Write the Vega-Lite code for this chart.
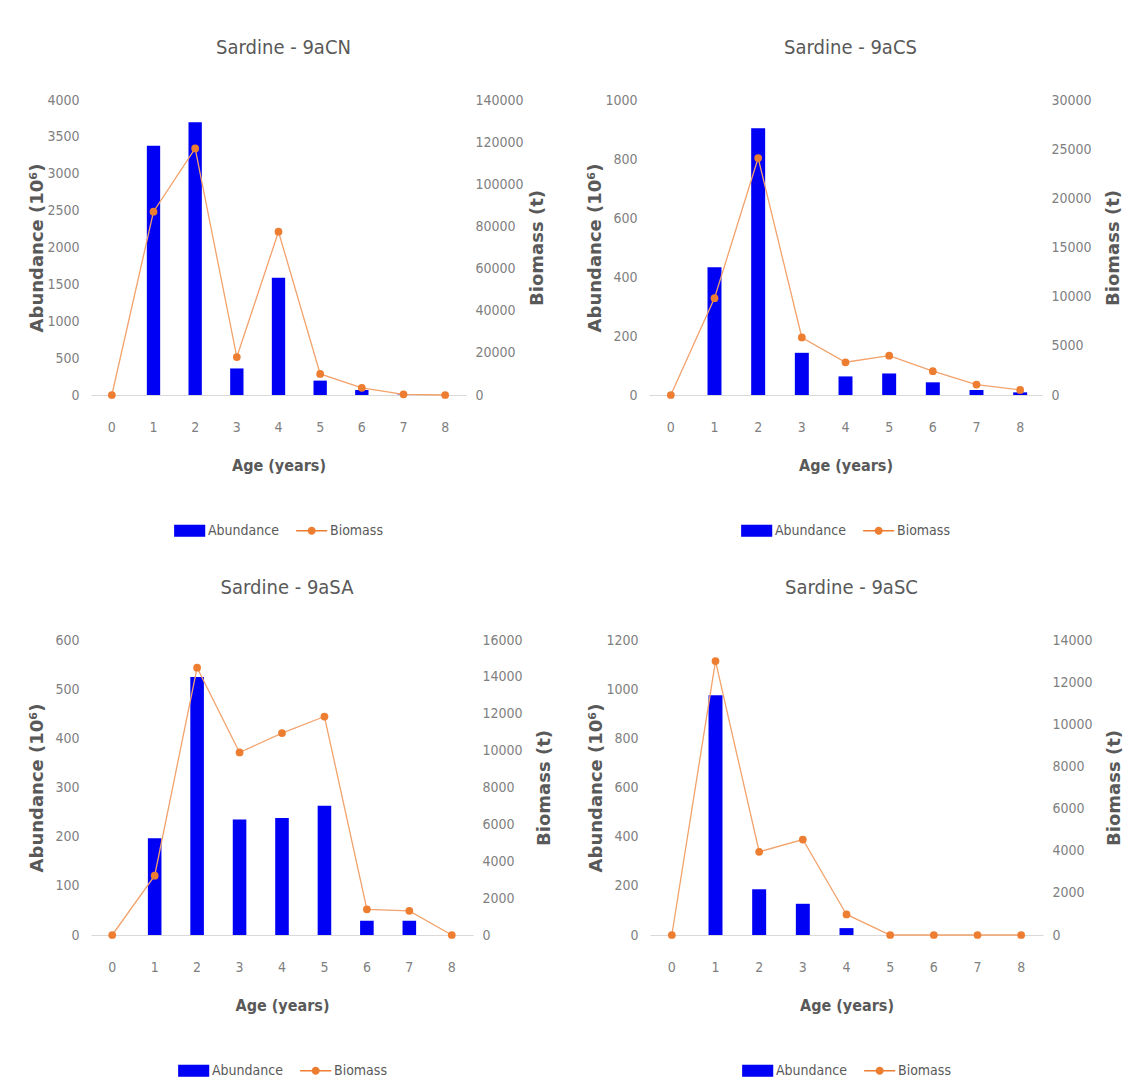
{
  "$schema": "https://vega.github.io/schema/vega-lite/v6.json",
  "background": "white",
  "padding": {"left": 27, "top": 38, "right": 5, "bottom": 0},
  "datasets": {
    "cn": [
      {"age": 0, "Abundance": 0, "Biomass": 0},
      {"age": 1, "Abundance": 3380, "Biomass": 87000},
      {"age": 2, "Abundance": 3700, "Biomass": 117000},
      {"age": 3, "Abundance": 360, "Biomass": 18000},
      {"age": 4, "Abundance": 1590, "Biomass": 77500},
      {"age": 5, "Abundance": 195, "Biomass": 10000},
      {"age": 6, "Abundance": 68, "Biomass": 3400},
      {"age": 7, "Abundance": 5, "Biomass": 300},
      {"age": 8, "Abundance": 0, "Biomass": 0}
    ],
    "cs": [
      {"age": 0, "Abundance": 0, "Biomass": 0},
      {"age": 1, "Abundance": 433, "Biomass": 9850},
      {"age": 2, "Abundance": 904, "Biomass": 24100},
      {"age": 3, "Abundance": 143, "Biomass": 5850},
      {"age": 4, "Abundance": 63, "Biomass": 3330},
      {"age": 5, "Abundance": 73, "Biomass": 4000},
      {"age": 6, "Abundance": 43, "Biomass": 2420},
      {"age": 7, "Abundance": 17, "Biomass": 1060},
      {"age": 8, "Abundance": 9, "Biomass": 510}
    ],
    "sa": [
      {"age": 0, "Abundance": 0, "Biomass": 0},
      {"age": 1, "Abundance": 197, "Biomass": 3220},
      {"age": 2, "Abundance": 525, "Biomass": 14500},
      {"age": 3, "Abundance": 235, "Biomass": 9900},
      {"age": 4, "Abundance": 238, "Biomass": 10950},
      {"age": 5, "Abundance": 263, "Biomass": 11850},
      {"age": 6, "Abundance": 29, "Biomass": 1390},
      {"age": 7, "Abundance": 29, "Biomass": 1310},
      {"age": 8, "Abundance": 0, "Biomass": 0}
    ],
    "sc": [
      {"age": 0, "Abundance": 0, "Biomass": 0},
      {"age": 1, "Abundance": 975, "Biomass": 13000},
      {"age": 2, "Abundance": 186, "Biomass": 3950},
      {"age": 3, "Abundance": 127, "Biomass": 4530},
      {"age": 4, "Abundance": 28, "Biomass": 975},
      {"age": 5, "Abundance": 0, "Biomass": 0},
      {"age": 6, "Abundance": 0, "Biomass": 0},
      {"age": 7, "Abundance": 0, "Biomass": 0},
      {"age": 8, "Abundance": 0, "Biomass": 0}
    ]
  },
  "resolve": {"scale": {"color": "independent", "shape": "independent"}, "legend": {"color": "independent", "shape": "independent"}},
  "spacing": 40,
  "vconcat": [
    {
      "hconcat": [
        {
          "title": {"text": "Sardine - 9aCN"},
          "width": 375, "height": 295,
          "data": {"name": "cn"},
          "encoding": {"x": {"field": "age", "type": "ordinal", "title": "Age (years)", "scale": {"paddingInner": 0.68, "paddingOuter": 0.34}}},
          "layer": [
            {"mark": {"type": "bar", "color": "#0000f5"},
             "encoding": {"y": {"field": "Abundance", "type": "quantitative", "scale": {"domain": [0, 4000]}, "axis": {"orient": "left", "title": "Abundance (10⁶)", "values": [0, 500, 1000, 1500, 2000, 2500, 3000, 3500, 4000], "format": "d"}}}},
            {"mark": {"type": "line", "color": "#f2a26b", "strokeWidth": 1.3, "point": {"filled": true, "size": 60, "color": "#ed7d31", "opacity": 1}},
             "encoding": {"y": {"field": "Biomass", "type": "quantitative", "scale": {"domain": [0, 140000]}, "axis": {"orient": "right", "title": "Biomass (t)", "values": [0, 20000, 40000, 60000, 80000, 100000, 120000, 140000], "format": "d"}}}},
            {"transform": [{"fold": ["Abundance", "Biomass"], "as": ["series", "value"]}],
             "mark": {"type": "point", "filled": true, "opacity": 0},
             "encoding": {
               "color": {"field": "series", "type": "nominal", "scale": {"domain": ["Abundance", "Biomass"], "range": ["#0000f5", "#ed7d31"]}, "legend": {"title": null}},
               "shape": {"field": "series", "type": "nominal", "scale": {"domain": ["Abundance", "Biomass"], "range": ["M-1,-0.58H2V0.58H-1Z", "M-1,-0.07H2V0.07H-1Z M0.89,0A0.39,0.39 0 1,1 0.11,0A0.39,0.39 0 1,1 0.89,0Z"]}, "legend": {"title": null}}
             }}
          ],
          "resolve": {"scale": {"y": "independent"}}
        },
        {
          "title": {"text": "Sardine - 9aCS"},
          "width": 393, "height": 295,
          "data": {"name": "cs"},
          "encoding": {"x": {"field": "age", "type": "ordinal", "title": "Age (years)", "scale": {"paddingInner": 0.68, "paddingOuter": 0.34}}},
          "layer": [
            {"mark": {"type": "bar", "color": "#0000f5"},
             "encoding": {"y": {"field": "Abundance", "type": "quantitative", "scale": {"domain": [0, 1000]}, "axis": {"orient": "left", "title": "Abundance (10⁶)", "values": [0, 200, 400, 600, 800, 1000], "format": "d"}}}},
            {"mark": {"type": "line", "color": "#f2a26b", "strokeWidth": 1.3, "point": {"filled": true, "size": 60, "color": "#ed7d31", "opacity": 1}},
             "encoding": {"y": {"field": "Biomass", "type": "quantitative", "scale": {"domain": [0, 30000]}, "axis": {"orient": "right", "title": "Biomass (t)", "values": [0, 5000, 10000, 15000, 20000, 25000, 30000], "format": "d"}}}},
            {"transform": [{"fold": ["Abundance", "Biomass"], "as": ["series", "value"]}],
             "mark": {"type": "point", "filled": true, "opacity": 0},
             "encoding": {
               "color": {"field": "series", "type": "nominal", "scale": {"domain": ["Abundance", "Biomass"], "range": ["#0000f5", "#ed7d31"]}, "legend": {"title": null}},
               "shape": {"field": "series", "type": "nominal", "scale": {"domain": ["Abundance", "Biomass"], "range": ["M-1,-0.58H2V0.58H-1Z", "M-1,-0.07H2V0.07H-1Z M0.89,0A0.39,0.39 0 1,1 0.11,0A0.39,0.39 0 1,1 0.89,0Z"]}, "legend": {"title": null}}
             }}
          ],
          "resolve": {"scale": {"y": "independent"}}
        }
      ],
      "bounds": "flush",
      "spacing": 183,
      "resolve": {"scale": {"color": "independent", "shape": "independent"}, "legend": {"color": "independent", "shape": "independent"}}
    },
    {
      "hconcat": [
        {
          "title": {"text": "Sardine - 9aSA"},
          "width": 382, "height": 295,
          "data": {"name": "sa"},
          "encoding": {"x": {"field": "age", "type": "ordinal", "title": "Age (years)", "scale": {"paddingInner": 0.68, "paddingOuter": 0.34}}},
          "layer": [
            {"mark": {"type": "bar", "color": "#0000f5"},
             "encoding": {"y": {"field": "Abundance", "type": "quantitative", "scale": {"domain": [0, 600]}, "axis": {"orient": "left", "title": "Abundance (10⁶)", "values": [0, 100, 200, 300, 400, 500, 600], "format": "d"}}}},
            {"mark": {"type": "line", "color": "#f2a26b", "strokeWidth": 1.3, "point": {"filled": true, "size": 60, "color": "#ed7d31", "opacity": 1}},
             "encoding": {"y": {"field": "Biomass", "type": "quantitative", "scale": {"domain": [0, 16000]}, "axis": {"orient": "right", "title": "Biomass (t)", "values": [0, 2000, 4000, 6000, 8000, 10000, 12000, 14000, 16000], "format": "d"}}}},
            {"transform": [{"fold": ["Abundance", "Biomass"], "as": ["series", "value"]}],
             "mark": {"type": "point", "filled": true, "opacity": 0},
             "encoding": {
               "color": {"field": "series", "type": "nominal", "scale": {"domain": ["Abundance", "Biomass"], "range": ["#0000f5", "#ed7d31"]}, "legend": {"title": null}},
               "shape": {"field": "series", "type": "nominal", "scale": {"domain": ["Abundance", "Biomass"], "range": ["M-1,-0.58H2V0.58H-1Z", "M-1,-0.07H2V0.07H-1Z M0.89,0A0.39,0.39 0 1,1 0.11,0A0.39,0.39 0 1,1 0.89,0Z"]}, "legend": {"title": null}}
             }}
          ],
          "resolve": {"scale": {"y": "independent"}}
        },
        {
          "title": {"text": "Sardine - 9aSC"},
          "width": 393, "height": 295,
          "data": {"name": "sc"},
          "encoding": {"x": {"field": "age", "type": "ordinal", "title": "Age (years)", "scale": {"paddingInner": 0.68, "paddingOuter": 0.34}}},
          "layer": [
            {"mark": {"type": "bar", "color": "#0000f5"},
             "encoding": {"y": {"field": "Abundance", "type": "quantitative", "scale": {"domain": [0, 1200]}, "axis": {"orient": "left", "title": "Abundance (10⁶)", "values": [0, 200, 400, 600, 800, 1000, 1200], "format": "d"}}}},
            {"mark": {"type": "line", "color": "#f2a26b", "strokeWidth": 1.3, "point": {"filled": true, "size": 60, "color": "#ed7d31", "opacity": 1}},
             "encoding": {"y": {"field": "Biomass", "type": "quantitative", "scale": {"domain": [0, 14000]}, "axis": {"orient": "right", "title": "Biomass (t)", "values": [0, 2000, 4000, 6000, 8000, 10000, 12000, 14000], "format": "d"}}}},
            {"transform": [{"fold": ["Abundance", "Biomass"], "as": ["series", "value"]}],
             "mark": {"type": "point", "filled": true, "opacity": 0},
             "encoding": {
               "color": {"field": "series", "type": "nominal", "scale": {"domain": ["Abundance", "Biomass"], "range": ["#0000f5", "#ed7d31"]}, "legend": {"title": null}},
               "shape": {"field": "series", "type": "nominal", "scale": {"domain": ["Abundance", "Biomass"], "range": ["M-1,-0.58H2V0.58H-1Z", "M-1,-0.07H2V0.07H-1Z M0.89,0A0.39,0.39 0 1,1 0.11,0A0.39,0.39 0 1,1 0.89,0Z"]}, "legend": {"title": null}}
             }}
          ],
          "resolve": {"scale": {"y": "independent"}}
        }
      ],
      "bounds": "flush",
      "spacing": 177,
      "resolve": {"scale": {"color": "independent", "shape": "independent"}, "legend": {"color": "independent", "shape": "independent"}}
    }
  ],
  "config": {
    "view": {"stroke": null},
    "font": "Liberation Sans Narrow, DejaVu Sans Condensed, Liberation Sans, sans-serif",
    "axis": {"grid": false, "ticks": false, "domain": false, "labelFont": "Liberation Sans Narrow, DejaVu Sans Condensed, Liberation Sans, sans-serif", "labelFontSize": 14, "labelColor": "#7f7f7f", "titleColor": "#595959"},
    "axisX": {"domain": true, "domainColor": "#d9d9d9", "domainWidth": 1, "labelPadding": 25, "labelAngle": 0, "titleFont": "Liberation Sans Narrow, DejaVu Sans Condensed, Liberation Sans, sans-serif", "titleFontSize": 16, "titleFontWeight": "bold", "titlePadding": 23},
    "axisLeft": {"minExtent": 41, "maxExtent": 41, "labelPadding": 12, "titleFont": "DejaVu Sans", "titleFontSize": 18, "titleFontWeight": "bold", "titlePadding": 4, "titleAngle": 270, "titleBaseline": "bottom"},
    "axisRight": {"minExtent": 52, "maxExtent": 52, "labelPadding": 9, "titleFont": "DejaVu Sans", "titleFontSize": 18, "titleFontWeight": "bold", "titlePadding": 10, "titleAngle": 270, "titleBaseline": "top"},
    "title": {"font": "Liberation Sans Narrow, DejaVu Sans Condensed, Liberation Sans, sans-serif", "fontSize": 20, "fontWeight": "normal", "color": "#595959", "offset": 35, "dx": 5},
    "legend": {"orient": "bottom", "direction": "horizontal", "layout": {"bottom": {"anchor": "middle"}}, "symbolSize": 430, "symbolStrokeWidth": 0, "symbolOpacity": 1, "labelFont": "Liberation Sans Narrow, DejaVu Sans Condensed, Liberation Sans, sans-serif", "labelFontSize": 14, "labelColor": "#595959", "labelOffset": 13, "columnPadding": 17, "offset": 47}
  }
}
